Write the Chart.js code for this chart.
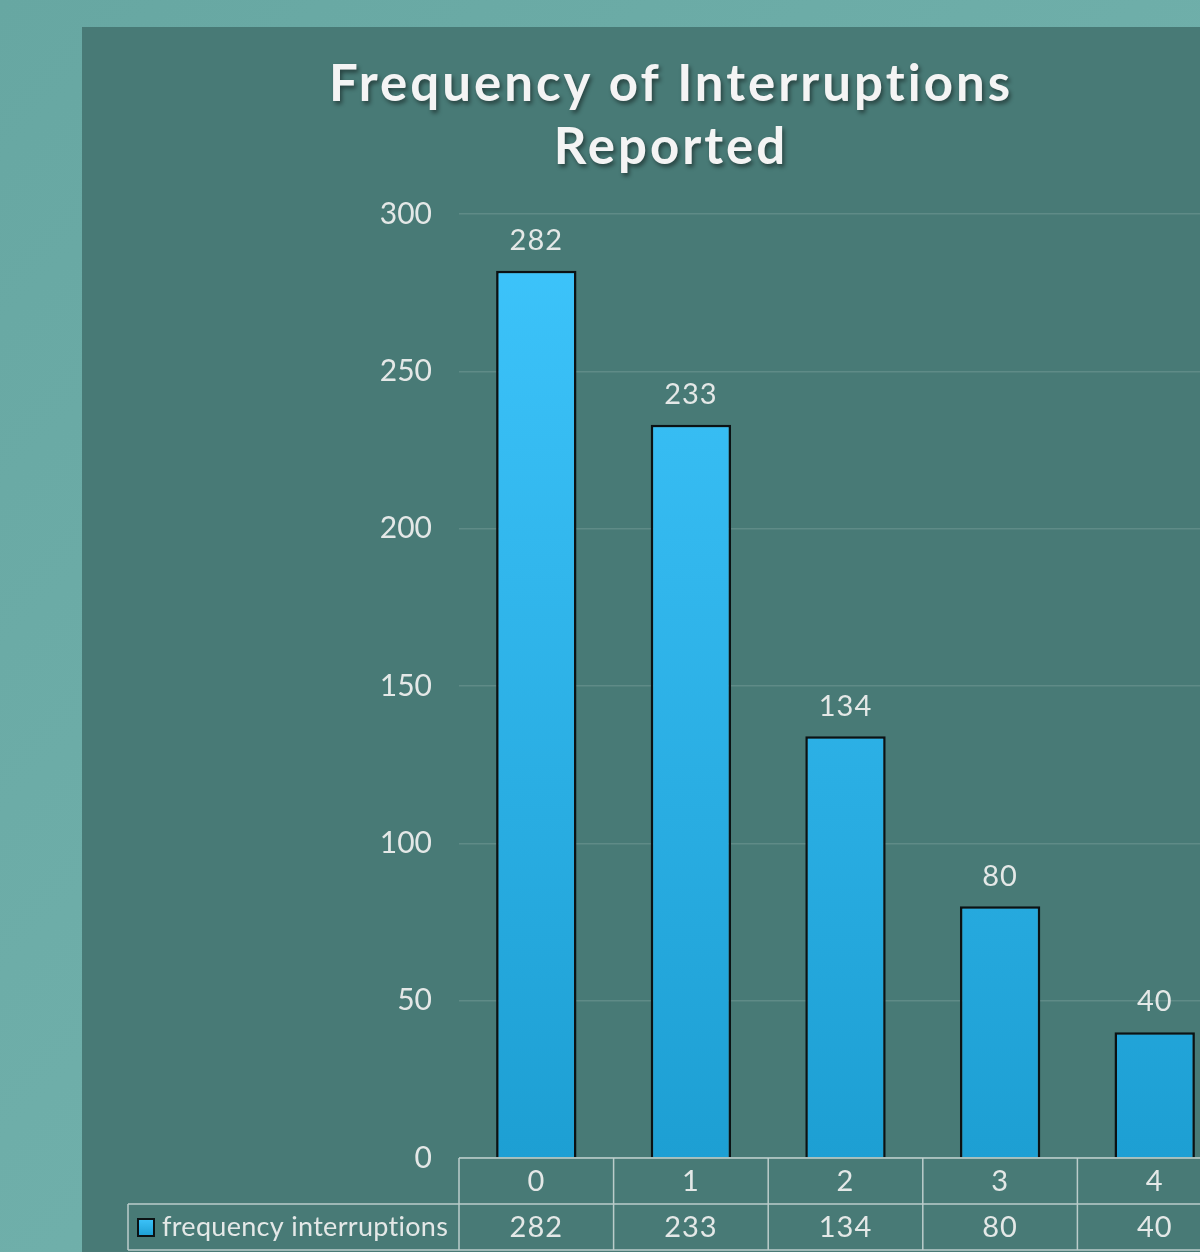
<!DOCTYPE html>
<html>
<head>
<meta charset="utf-8">
<title>Frequency of Interruptions Reported</title>
<script src="https://cdn.jsdelivr.net/npm/chart.js@4.4.1/dist/chart.umd.min.js"></script>
<style>
  html, body {
    margin: 0;
    padding: 0;
    width: 1200px;
    height: 1252px;
    overflow: hidden;
    background: linear-gradient(135deg, #67a7a2 0%, #70b0ab 60%, #6ba9a4 100%);
  }
  #panel {
    position: absolute;
    left: 82px;
    top: 27px;
    width: 1180px;
    height: 1225px;
    background: #487a76;
  }
  #chart {
    display: block;
  }
</style>
</head>
<body>
<div id="panel">
  <canvas id="chart" width="1180" height="1225"></canvas>
</div>
<script>
// Donnees du graphique
const titleLines = ['Frequency of Interruptions', 'Reported'];
const categories = ['0', '1', '2', '3', '4'];
const seriesName = 'frequency interruptions';
const frequencies = [282, 233, 134, 80, 40];
const yTicks = [0, 50, 100, 150, 200, 250, 300];

const textColor = '#e4e8e7';
const lineColor = 'rgba(225, 232, 231, 0.75)';
const gridColor = 'rgba(255, 255, 255, 0.13)';
const fontFamily = 'Lato, "Open Sans", sans-serif';

/**
 * Degrade vertical des barres
 */
function barGradient(context) {
    const chart = context.chart;
    const area = chart.chartArea;
    if (!area) return '#34bdf4';
    const g = chart.ctx.createLinearGradient(0, area.top, 0, area.bottom);
    g.addColorStop(0, '#3ec5fc');
    g.addColorStop(1, '#1d9fd3');
    return g;
}

/**
 * Titre avec ombre et espacement des lettres
 */
const titlePlugin = {
    id: 'shadowTitle',
    afterDraw(chart) {
        const ctx = chart.ctx;
        const cx = chart.width / 2 - 1;
        ctx.save();
        ctx.font = 'bold 51px ' + fontFamily;
        ctx.letterSpacing = '3px';
        ctx.textAlign = 'center';
        ctx.textBaseline = 'alphabetic';
        ctx.fillStyle = '#f4f4f4';
        ctx.shadowColor = 'rgba(0, 0, 0, 0.45)';
        ctx.shadowOffsetX = 2;
        ctx.shadowOffsetY = 3;
        ctx.shadowBlur = 4;
        titleLines.forEach((line, i) => {
            ctx.fillText(line, cx, 74 + i * 63);
        });
        ctx.restore();
    }
};

/**
 * Etiquettes de valeur au-dessus des barres
 */
const valueLabelPlugin = {
    id: 'valueLabels',
    afterDatasetsDraw(chart) {
        const ctx = chart.ctx;
        const meta = chart.getDatasetMeta(0);
        ctx.save();
        ctx.font = '29px ' + fontFamily;
        ctx.letterSpacing = '1px';
        ctx.fillStyle = textColor;
        ctx.textAlign = 'center';
        ctx.textBaseline = 'middle';
        meta.data.forEach((bar, i) => {
            ctx.fillText(String(frequencies[i]), bar.x, bar.y - 30);
        });
        ctx.restore();
    }
};

/**
 * Table de donnees sous l'axe des categories
 */
const dataTablePlugin = {
    id: 'dataTable',
    afterDraw(chart) {
        const ctx = chart.ctx;
        const x = chart.scales.x;
        const top = chart.chartArea.bottom;
        const rowH = 46;
        const legendLeft = 46;
        const step = x.width / categories.length;

        ctx.save();
        ctx.strokeStyle = lineColor;
        ctx.lineWidth = 1.5;
        ctx.beginPath();
        // lignes horizontales
        ctx.moveTo(x.left, top);
        ctx.lineTo(x.right + 40, top);
        ctx.moveTo(legendLeft, top + rowH);
        ctx.lineTo(x.right + 40, top + rowH);
        ctx.moveTo(legendLeft, top + rowH * 2);
        ctx.lineTo(x.right + 40, top + rowH * 2);
        // lignes verticales
        ctx.moveTo(legendLeft, top + rowH);
        ctx.lineTo(legendLeft, top + rowH * 2);
        for (let i = 0; i <= categories.length; i++) {
            const px = x.left + i * step;
            ctx.moveTo(px, top);
            ctx.lineTo(px, top + rowH * 2);
        }
        ctx.stroke();

        ctx.font = '29px ' + fontFamily;
        ctx.letterSpacing = '1px';
        ctx.fillStyle = textColor;
        ctx.textAlign = 'center';
        ctx.textBaseline = 'middle';
        categories.forEach((cat, i) => {
            const cx = x.getPixelForValue(i);
            ctx.fillText(cat, cx, top + rowH / 2 + 1);
            ctx.fillText(String(frequencies[i]), cx, top + rowH * 1.5 + 1);
        });

        // cle de legende
        const ky = top + rowH * 1.5;
        const kg = ctx.createLinearGradient(0, ky - 9, 0, ky + 9);
        kg.addColorStop(0, '#3ec5fc');
        kg.addColorStop(1, '#1d9fd3');
        ctx.fillStyle = kg;
        ctx.fillRect(56, ky - 8, 16, 17);
        ctx.strokeStyle = '#0b1214';
        ctx.lineWidth = 2;
        ctx.strokeRect(56, ky - 8, 16, 17);

        ctx.font = '27px ' + fontFamily;
        ctx.letterSpacing = '0.3px';
        ctx.fillStyle = textColor;
        ctx.textAlign = 'left';
        ctx.fillText(seriesName, 80, ky);
        ctx.restore();
    }
};

new Chart(document.getElementById('chart'), {
    type: 'bar',
    data: {
        labels: categories,
        datasets: [{
            label: seriesName,
            data: frequencies,
            backgroundColor: barGradient,
            borderColor: '#0b1214',
            borderWidth: 2.5,
            borderSkipped: 'bottom',
            barPercentage: 0.52,
            categoryPercentage: 1.0
        }]
    },
    options: {
        responsive: false,
        animation: false,
        layout: {
            padding: { top: 187, right: 30, bottom: 0, left: 0 }
        },
        plugins: {
            legend: { display: false },
            title: { display: false },
            tooltip: { enabled: false }
        },
        scales: {
            x: {
                grid: { display: false, drawTicks: false },
                border: { display: false },
                ticks: { display: false },
                afterFit(scale) {
                    scale.height = 94;
                }
            },
            y: {
                min: 0,
                max: 300,
                afterBuildTicks(scale) {
                    scale.ticks = yTicks.map(v => ({ value: v }));
                },
                grid: {
                    color: gridColor,
                    lineWidth: 1.5,
                    drawTicks: false
                },
                border: { display: false },
                ticks: {
                    color: textColor,
                    padding: 27,
                    font: { family: fontFamily, size: 30 }
                },
                afterFit(scale) {
                    scale.width = 377;
                }
            }
        }
    },
    plugins: [titlePlugin, valueLabelPlugin, dataTablePlugin]
});
</script>
</body>
</html>
